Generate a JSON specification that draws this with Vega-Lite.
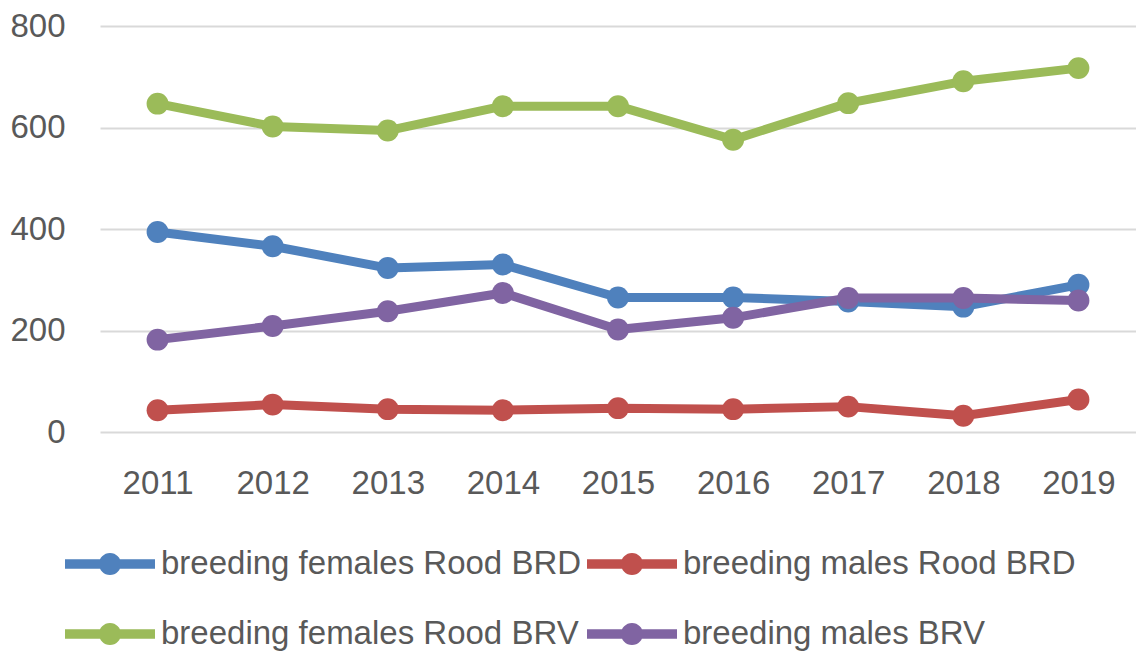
{
  "$schema": "https://vega.github.io/schema/vega-lite/v6.json",
  "width": 1036,
  "height": 406,
  "autosize": "none",
  "padding": {"left": 100, "top": 26, "right": 0, "bottom": 223},
  "background": "#ffffff",
  "config": {
    "view": {"stroke": null},
    "font": "Liberation Sans",
    "axis": {"labelFont": "Liberation Sans", "labelColor": "#595959", "labelFontSize": 33, "domain": false, "ticks": false, "gridColor": "#D9D9D9", "gridWidth": 2.2, "title": null},
    "legend": {"labelFont": "Liberation Sans", "labelColor": "#595959", "labelFontSize": 33, "labelLimit": 0}
  },
  "data": {"values": [
    {"year": "2011", "series": "breeding females Rood BRD", "value": 394},
    {"year": "2012", "series": "breeding females Rood BRD", "value": 366},
    {"year": "2013", "series": "breeding females Rood BRD", "value": 323},
    {"year": "2014", "series": "breeding females Rood BRD", "value": 330},
    {"year": "2015", "series": "breeding females Rood BRD", "value": 265},
    {"year": "2016", "series": "breeding females Rood BRD", "value": 265},
    {"year": "2017", "series": "breeding females Rood BRD", "value": 257},
    {"year": "2018", "series": "breeding females Rood BRD", "value": 247},
    {"year": "2019", "series": "breeding females Rood BRD", "value": 290},
    {"year": "2011", "series": "breeding males Rood BRD", "value": 43},
    {"year": "2012", "series": "breeding males Rood BRD", "value": 54},
    {"year": "2013", "series": "breeding males Rood BRD", "value": 45},
    {"year": "2014", "series": "breeding males Rood BRD", "value": 43},
    {"year": "2015", "series": "breeding males Rood BRD", "value": 47},
    {"year": "2016", "series": "breeding males Rood BRD", "value": 45},
    {"year": "2017", "series": "breeding males Rood BRD", "value": 50},
    {"year": "2018", "series": "breeding males Rood BRD", "value": 32},
    {"year": "2019", "series": "breeding males Rood BRD", "value": 64},
    {"year": "2011", "series": "breeding females Rood BRV", "value": 647},
    {"year": "2012", "series": "breeding females Rood BRV", "value": 602},
    {"year": "2013", "series": "breeding females Rood BRV", "value": 594},
    {"year": "2014", "series": "breeding females Rood BRV", "value": 642},
    {"year": "2015", "series": "breeding females Rood BRV", "value": 642},
    {"year": "2016", "series": "breeding females Rood BRV", "value": 576},
    {"year": "2017", "series": "breeding females Rood BRV", "value": 648},
    {"year": "2018", "series": "breeding females Rood BRV", "value": 691},
    {"year": "2019", "series": "breeding females Rood BRV", "value": 717},
    {"year": "2011", "series": "breeding males BRV", "value": 182},
    {"year": "2012", "series": "breeding males BRV", "value": 209},
    {"year": "2013", "series": "breeding males BRV", "value": 238},
    {"year": "2014", "series": "breeding males BRV", "value": 274},
    {"year": "2015", "series": "breeding males BRV", "value": 202},
    {"year": "2016", "series": "breeding males BRV", "value": 225},
    {"year": "2017", "series": "breeding males BRV", "value": 264},
    {"year": "2018", "series": "breeding males BRV", "value": 264},
    {"year": "2019", "series": "breeding males BRV", "value": 259}
  ]},
  "encoding": {
    "x": {"field": "year", "type": "ordinal", "scale": {"type": "point", "padding": 0.5}, "axis": {"labelAngle": 0, "labelPadding": 35, "grid": false}},
    "y": {"field": "value", "type": "quantitative", "scale": {"domain": [0, 800], "nice": false}, "axis": {"values": [0, 200, 400, 600, 800], "labelPadding": 35, "grid": true}},
    "color": {
      "field": "series", "type": "nominal",
      "scale": {"domain": ["breeding females Rood BRD", "breeding males Rood BRD", "breeding females Rood BRV", "breeding males BRV"], "range": ["#4F81BD", "#C0504D", "#9BBB59", "#8064A2"]},
      "legend": {"title": null, "orient": "none", "legendX": -35, "legendY": 493, "direction": "horizontal", "columns": 2, "columnPadding": 5, "rowPadding": 8, "labelOffset": 6,
        "symbolType": "M -1 -0.105 H 1 V 0.105 H -1 Z M 0.245 0 A 0.245 0.245 0 1 1 -0.245 0 A 0.245 0.245 0 1 1 0.245 0 Z",
        "symbolSize": 8100, "symbolStrokeWidth": 0}
    }
  },
  "layer": [
    {"mark": {"type": "line", "strokeWidth": 9, "strokeCap": "round", "strokeJoin": "round"}},
    {"mark": {"type": "point", "filled": true, "size": 480, "opacity": 1}}
  ]
}
